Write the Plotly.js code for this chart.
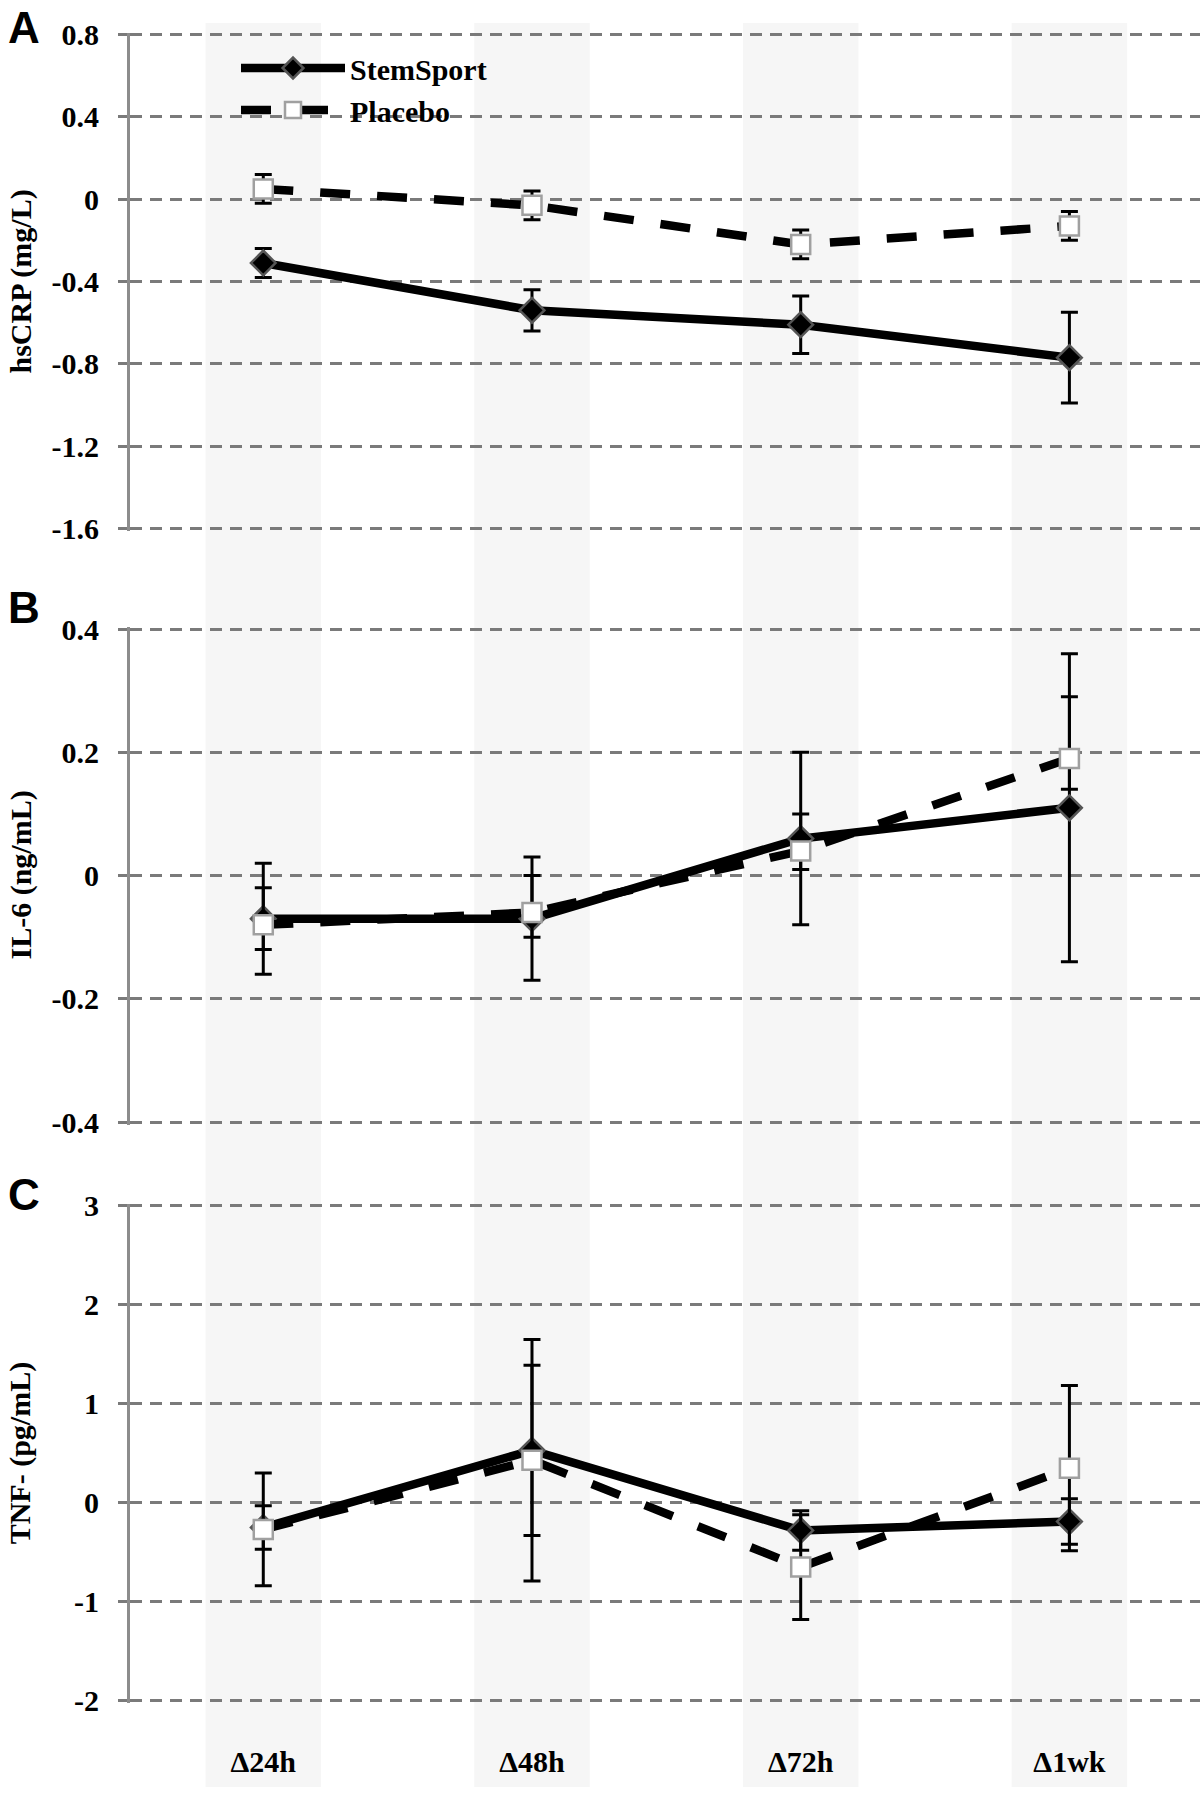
<!DOCTYPE html>
<html>
<head>
<meta charset="utf-8">
<script src="https://cdn.plot.ly/plotly-3.0.1.min.js"></script>
<style>html,body{margin:0;padding:0;background:#fff;}#chart{width:1200px;height:1799px;}</style>
</head>
<body>
<div id="chart"></div>
<script>
// ---- data ----
const categories = ['Δ24h', 'Δ48h', 'Δ72h', 'Δ1wk'];
const seriesNames = ['StemSport', 'Placebo'];

// Panel A: hsCRP (mg/L)
const hsCRPStem = [-0.31, -0.54, -0.61, -0.77];
const hsCRPStemErr = [0.07, 0.10, 0.14, 0.22];
const hsCRPPlacebo = [0.05, -0.03, -0.22, -0.13];
const hsCRPPlaceboErr = [0.07, 0.07, 0.07, 0.07];

// Panel B: IL-6 (ng/mL)
const il6Stem = [-0.07, -0.07, 0.06, 0.11];
const il6StemErr = [0.09, 0.10, 0.14, 0.25];
const il6Placebo = [-0.08, -0.06, 0.04, 0.19];
const il6PlaceboErrPlus = [0.06, 0.06, 0.06, 0.10];
const il6PlaceboErrMinus = [0.04, 0.04, 0.03, 0.05];

// Panel C: TNF (pg/mL)
const tnfStem = [-0.25, 0.53, -0.28, -0.19];
const tnfStemErr = [0.22, 0.86, 0.20, 0.23];
const tnfPlacebo = [-0.27, 0.43, -0.65, 0.35];
const tnfPlaceboErr = [0.57, 1.22, 0.53, 0.835];

// axis ticks
const ticksA = [0.8, 0.4, 0, -0.4, -0.8, -1.2, -1.6];
const tickTextA = ['0.8', '0.4', '0', '-0.4', '-0.8', '-1.2', '-1.6'];
const ticksB = [0.4, 0.2, 0, -0.2, -0.4];
const tickTextB = ['0.4', '0.2', '0', '-0.2', '-0.4'];
const ticksC = [3, 2, 1, 0, -1, -2];
const tickTextC = ['3', '2', '1', '0', '-1', '-2'];

const axisTitles = ['hsCRP (mg/L)', 'IL-6 (ng/mL)', 'TNF- (pg/mL)'];
const panelLetters = ['A', 'B', 'C'];

// ---- styles ----
const serif = {family: 'Liberation Serif, Times New Roman, serif', weight: 'bold', color: '#000'};
const stemStyle = {
  mode: 'lines+markers',
  line: {color: '#000', width: 8.5},
  marker: {symbol: 'diamond', size: 19, color: '#000', line: {color: '#555', width: 2.5}}
};
const placeboStyle = {
  mode: 'lines+markers',
  line: {color: '#000', width: 8.5, dash: '30px,27px'},
  marker: {symbol: 'square', size: 19, color: '#fff', line: {color: '#a0a0a0', width: 2.5}}
};
function err(plus, minus) {
  return {type: 'data', array: plus, arrayminus: minus || plus, symmetric: !minus,
          color: '#000', thickness: 3, width: 8.5, visible: true};
}
function trace(style, name, y, yaxis, e, show) {
  return Object.assign({}, JSON.parse(JSON.stringify(style)), {
    type: 'scatter', x: categories, y: y, name: name, yaxis: yaxis, xaxis: 'x',
    error_y: e, showlegend: show, cliponaxis: false
  });
}

const data = [
  trace(stemStyle, seriesNames[0], hsCRPStem, 'y', err(hsCRPStemErr), true),
  trace(placeboStyle, seriesNames[1], hsCRPPlacebo, 'y', err(hsCRPPlaceboErr), true),
  trace(stemStyle, seriesNames[0], il6Stem, 'y2', err(il6StemErr), false),
  trace(placeboStyle, seriesNames[1], il6Placebo, 'y2', err(il6PlaceboErrPlus, il6PlaceboErrMinus), false),
  trace(stemStyle, seriesNames[0], tnfStem, 'y3', err(tnfStemErr), false),
  trace(placeboStyle, seriesNames[1], tnfPlacebo, 'y3', err(tnfPlaceboErr), false)
];

function yaxis(domain, range, vals, text) {
  return {
    domain: domain, range: range, tickmode: 'array', tickvals: vals, ticktext: text,
    showgrid: true, gridcolor: '#7a7a7a', gridwidth: 3, griddash: '12px,8px',
    zeroline: false, showline: true, linecolor: '#8c8c8c', linewidth: 3,
    ticks: 'outside', ticklen: 9, tickwidth: 3, tickcolor: '#7a7a7a',
    ticklabelstandoff: 13, tickfont: Object.assign({size: 30}, serif),
    anchor: 'x', fixedrange: true
  };
}

const L = 130, W = 1200, H = 1799;
const px = v => (v - L) / (W - L);
const py = v => 1 - v / H;

const shapes = categories.map((c, i) => ({
  type: 'rect', xref: 'x', yref: 'paper', x0: i - 0.215, x1: i + 0.215,
  y0: py(1787), y1: py(23), fillcolor: '#f6f6f6', line: {width: 0}, layer: 'below'
}));

const titleY = [281.5, 875.5, 1453.3];
const letterY = [28, 607, 1194];
const annotations = [];
axisTitles.forEach((t, i) => annotations.push({
  text: t, xref: 'paper', yref: 'paper', x: px(20), y: py(titleY[i]),
  xanchor: 'center', yanchor: 'middle', textangle: -90, showarrow: false,
  font: Object.assign({size: 30}, serif)
}));
panelLetters.forEach((t, i) => annotations.push({
  text: t, xref: 'paper', yref: 'paper', x: px(24), y: py(letterY[i]),
  xanchor: 'center', yanchor: 'middle', showarrow: false,
  font: {family: 'Liberation Sans, Arial, sans-serif', weight: 'bold', size: 44, color: '#000'}
}));

const layout = {
  width: W, height: H,
  margin: {l: L, r: 0, t: 0, b: 0},
  paper_bgcolor: '#fff', plot_bgcolor: 'rgba(0,0,0,0)',
  showlegend: true,
  legend: {
    x: px(236), y: py(42), xanchor: 'left', yanchor: 'top',
    bgcolor: 'rgba(0,0,0,0)', borderwidth: 0, itemwidth: 104,
    font: Object.assign({size: 30}, serif), tracegroupgap: 0
  },
  xaxis: {
    type: 'category', categoryorder: 'array', categoryarray: categories,
    range: [-0.496, 3.486], anchor: 'y3', showgrid: false, zeroline: false,
    showline: false, ticks: '', ticklabelstandoff: 38,
    tickfont: Object.assign({size: 30}, serif), fixedrange: true
  },
  yaxis: yaxis([py(530.5), py(32.5)], [-1.61, 0.81], ticksA, tickTextA),
  yaxis2: yaxis([py(1124.5), py(626.6)], [-0.404, 0.404], ticksB, tickTextB),
  yaxis3: yaxis([py(1702.6), py(1204)], [-2.02, 3.02], ticksC, tickTextC),
  shapes: shapes,
  annotations: annotations
};

Plotly.newPlot('chart', data, layout, {displayModeBar: false, staticPlot: true});
</script>
</body>
</html>
